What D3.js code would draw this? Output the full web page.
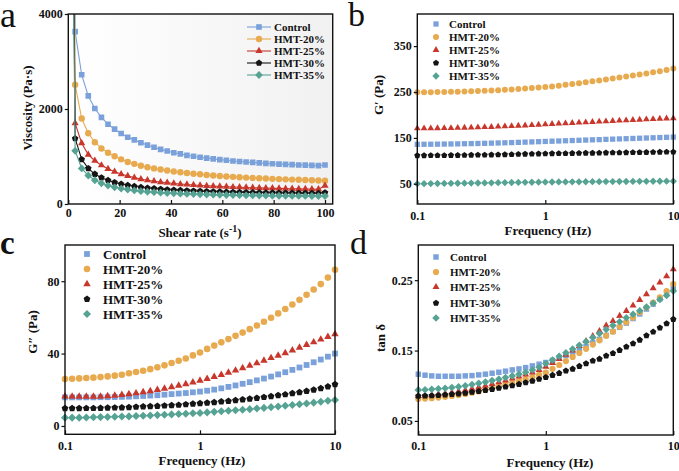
<!DOCTYPE html>
<html><head><meta charset="utf-8">
<script src="https://cdn.jsdelivr.net/npm/d3@7"></script>
<style>
body{margin:0;background:#fff;}
svg{display:block;}
text{font-family:"Liberation Serif","Times New Roman",serif;fill:#111;}
</style>
</head><body>
<svg id="chart" width="679" height="471"></svg>
<script>
// ---------------- DATA ----------------
const seriesNames  = ["Control","HMT-20%","HMT-25%","HMT-30%","HMT-35%"];
const seriesColors = ["#7ba1da","#e8aa4e","#c8372c","#151515","#56a394"];
const seriesShapes = ["square","circle","triangle","pentagon","diamond"];

// (a) viscosity vs shear rate
const shearRate = [0.1,2.66,5.22,7.78,10.34,12.91,15.47,18.03,20.59,23.15,25.72,28.28,30.84,33.40,35.96,38.53,41.09,43.65,46.21,48.77,51.34,53.90,56.46,59.02,61.58,64.15,66.71,69.27,71.83,74.39,76.96,79.52,82.08,84.64,87.20,89.77,92.33,94.89,97.45,100];
const viscControl = [30000,3630,2720,2275,2010,1825,1680,1575,1485,1405,1350,1290,1240,1195,1150,1115,1080,1055,1025,1005,985,965,950,935,920,905,895,885,875,865,855,848,840,835,828,822,818,812,808,822];
const viscHMT20 = [25000,2510,1800,1490,1300,1170,1080,1005,940,885,845,805,775,750,725,705,685,668,652,638,625,612,600,590,580,572,563,556,549,542,536,530,524,519,514,509,505,500,496,492];
const viscHMT25 = [20000,1700,1280,1040,910,815,740,680,630,590,555,525,500,480,462,447,433,420,410,400,391,383,376,369,363,357,352,347,343,339,335,331,328,325,322,319,316,314,312,385];
const viscHMT30 = [18000,1380,940,750,630,555,500,455,420,395,372,353,338,325,313,303,295,288,281,275,270,265,261,257,253,250,247,244,242,240,238,236,234,232,230,229,228,227,226,240];
const viscHMT35 = [15000,1120,750,600,500,435,388,352,325,303,285,270,258,248,239,231,224,218,213,208,204,200,196,193,190,187,185,183,181,179,177,175,174,172,171,170,169,168,167,166];

// frequency sweep (b, c, d)
const frequency = [0.1,0.1129,0.1274,0.1438,0.1624,0.1833,0.2069,0.2336,0.2637,0.2976,0.336,0.3793,0.4281,0.4833,0.5456,0.6158,0.6952,0.7848,0.8859,1.0,1.129,1.274,1.438,1.624,1.833,2.069,2.336,2.637,2.976,3.36,3.793,4.281,4.833,5.456,6.158,6.952,7.848,8.859,10];

// (b) G'
const gpControl = [136,136.1,136.2,136.4,136.6,136.8,137,137.3,137.6,137.9,138.2,138.6,139,139.4,139.8,140.3,140.8,141.3,141.8,142.3,142.8,143.3,143.8,144.3,144.8,145.3,145.8,146.3,146.8,147.3,147.8,148.3,148.8,149.3,149.8,150.3,150.8,151.3,151.8];
const gpHMT20 = [249.5,249.5,249.6,249.8,250.1,250.4,250.7,251.1,251.6,252.1,252.7,253.3,254,254.8,255.6,256.5,257.5,258.5,259.6,260.8,262.2,263.9,265.6,267.4,269.3,271.2,273.2,275.2,277.3,279.4,281.5,283.7,285.9,288.2,290.5,292.9,295.3,297.9,301];
const gpHMT25 = [170.8,170.9,171,171.1,171.3,171.5,171.8,172.1,172.5,172.9,173.4,173.9,174.5,175.1,175.8,176.5,177.2,178,178.8,179.6,180.4,181.1,181.8,182.5,183.3,184,184.8,185.5,186.2,186.9,187.6,188.3,189,189.7,190.4,191.1,191.8,192.4,193];
const gpHMT30 = [111.5,111.6,111.7,111.8,111.9,112,112.2,112.4,112.6,112.8,113,113.2,113.5,113.8,114.1,114.4,114.7,115,115.3,115.6,115.9,116.1,116.3,116.5,116.7,116.9,117.1,117.3,117.5,117.7,117.9,118.1,118.3,118.5,118.7,118.9,119.1,119.3,119.5];
const gpHMT35 = [50,50.2,50.4,50.6,50.8,51,51.2,51.4,51.6,51.8,52,52.2,52.4,52.6,52.8,53,53.2,53.4,53.6,53.8,54,54.1,54.2,54.3,54.4,54.5,54.6,54.7,54.8,54.9,55,55.1,55.2,55.3,55.4,55.5,55.6,55.7,55.8];

// (c) G''
const gppControl = [15.8,15.8,15.8,15.8,15.8,15.9,15.9,16,16.1,16.2,16.4,16.6,16.8,17,17.3,17.6,17.9,18.2,18.6,19,19.5,20.1,20.8,21.6,22.4,23.3,24.2,25.2,26.2,27.3,28.5,29.7,31,32.3,33.7,35.2,36.7,38.3,40];
const gppHMT20 = [25.9,26.1,26.3,26.5,26.7,27,27.4,27.8,28.3,29.1,29.8,30.5,31.4,32.4,33.5,34.8,36,37.3,39,40.6,42.6,44.4,46.2,48,49.8,51.6,53.5,55.5,57.6,59.8,62.2,64.6,67.1,69.7,72.5,75.4,78.4,82,86.3];
const gppHMT25 = [16.4,16.3,16.2,16.2,16.2,16.3,16.5,16.8,17.2,17.6,18.1,18.7,19.3,20,20.7,21.5,22.3,23.2,24.1,25.1,26.1,27.2,28.3,29.5,30.7,32,33.3,34.7,36.1,37.6,38.9,40.3,41.8,43.3,44.8,46.3,47.8,49.3,50.8];
const gppHMT30 = [9.7,9.7,9.7,9.8,9.8,9.9,10,10.1,10.2,10.3,10.5,10.7,10.8,11,11.2,11.4,11.6,11.9,12.2,12.5,12.8,13.1,13.5,13.8,14.2,14.6,15,15.4,15.9,16.4,16.9,17.4,18,18.6,19.3,20,20.8,21.8,23];
const gppHMT35 = [4.6,4.6,4.6,4.7,4.8,4.9,5,5.1,5.2,5.3,5.5,5.6,5.8,6,6.2,6.4,6.6,6.8,7,7.2,7.5,7.8,8.1,8.4,8.7,9,9.3,9.7,10,10.4,10.8,11.2,11.6,12,12.4,12.9,13.4,13.9,14.4];

// (d) tan delta
const tdControl = [0.1164,0.115,0.114,0.1135,0.1135,0.1135,0.1135,0.114,0.1144,0.1154,0.1164,0.1178,0.1192,0.1207,0.1225,0.1239,0.1258,0.1282,0.1306,0.133,0.136,0.1395,0.143,0.147,0.151,0.156,0.161,0.166,0.1715,0.177,0.183,0.189,0.1955,0.202,0.209,0.216,0.2235,0.231,0.239];
const tdHMT20 = [0.0813,0.0818,0.0824,0.0832,0.0842,0.0854,0.0868,0.0884,0.0902,0.0921,0.0942,0.0964,0.0988,0.1013,0.1039,0.1066,0.1094,0.1123,0.1153,0.1185,0.124,0.1295,0.135,0.141,0.1465,0.1525,0.1585,0.1645,0.171,0.177,0.1838,0.1903,0.1969,0.2045,0.2112,0.218,0.2255,0.2345,0.2445];
const tdHMT25 = [0.0855,0.086,0.0868,0.0878,0.089,0.0904,0.092,0.0937,0.0956,0.0977,0.1,0.1024,0.1049,0.1075,0.1102,0.113,0.1159,0.1189,0.1225,0.127,0.1325,0.138,0.144,0.15,0.1565,0.1635,0.1705,0.1779,0.1855,0.1921,0.1993,0.2064,0.2139,0.222,0.23,0.2386,0.2466,0.2557,0.2656];
const tdHMT30 = [0.0855,0.0856,0.0859,0.0864,0.087,0.0878,0.0887,0.0897,0.0909,0.0922,0.0936,0.0951,0.0967,0.0984,0.1002,0.1022,0.1044,0.1068,0.1094,0.1121,0.115,0.1178,0.1211,0.1239,0.1278,0.1315,0.1353,0.1381,0.1424,0.1462,0.1505,0.1552,0.1599,0.1651,0.1713,0.1765,0.1822,0.1883,0.1946];
const tdHMT35 = [0.0941,0.0943,0.095,0.0957,0.0965,0.0975,0.0987,0.1001,0.1017,0.1034,0.1053,0.1073,0.1094,0.1116,0.114,0.1165,0.1193,0.1225,0.1262,0.1315,0.1365,0.1418,0.147,0.1522,0.1575,0.163,0.1685,0.1742,0.1798,0.1855,0.1909,0.1965,0.2015,0.2065,0.2117,0.2172,0.2225,0.2282,0.2348];

// tick labels
const shearTicks = [0,20,40,60,80,100];
const viscTicks = [0,2000,4000];
const freqTicks = [0.1,1,10];
const gpTicks = [50,150,250,350];
const gppTicks = [0,40,80];
const tdTicks = [0.05,0.15,0.25];

// ---------------- DRAW ----------------
const svg = d3.select("#chart");
const defs = svg.append("defs");
const grad = defs.append("linearGradient").attr("id","bgA").attr("x1","0").attr("x2","1").attr("y1","0").attr("y2","0");
grad.append("stop").attr("offset","0%").attr("stop-color","#ffffff");
grad.append("stop").attr("offset","100%").attr("stop-color","#f1f1f1");

function poly(n, R, start){
  const p=[];
  for(let i=0;i<n;i++){const a=start+2*Math.PI*i/n;p.push([R*Math.cos(a),R*Math.sin(a)]);}
  return "M"+p.map(d=>d[0].toFixed(2)+","+d[1].toFixed(2)).join("L")+"Z";
}
function markerPath(shape, r){
  if(shape==="square"){const s=r*0.88;return `M${-s},${-s}H${s}V${s}H${-s}Z`;}
  if(shape==="circle") return d3.symbol(d3.symbolCircle, Math.PI*r*r)();
  if(shape==="triangle") return poly(3,r*1.3,-Math.PI/2);
  if(shape==="pentagon") return poly(5,r*1.08,-Math.PI/2);
  if(shape==="diamond") return poly(4,r*1.22,-Math.PI/2);
}

function panel(cfg){
  const g = svg.append("g");
  const {l,r,t,b} = cfg.box;
  const x = (cfg.xlog ? d3.scaleLog() : d3.scaleLinear()).domain(cfg.xdom).range([l,r]);
  const y = d3.scaleLinear().domain(cfg.ydom).range([b,t]);
  g.append("rect").attr("x",l).attr("y",t).attr("width",r-l).attr("height",b-t)
    .attr("fill", cfg.bg || "#fff");
  const clipId = "clip"+cfg.id;
  defs.append("clipPath").attr("id",clipId).append("rect").attr("x",l).attr("y",t).attr("width",r-l).attr("height",b-t);
  const plot = g.append("g");
  if(cfg.clip) plot.attr("clip-path",`url(#${clipId})`);
  cfg.series.forEach((vals,k)=>{
    const pts = cfg.xs.map((xv,i)=>[xv,vals[i]]);
    if(cfg.lines){
      plot.append("path").attr("d", d3.line().x(d=>x(d[0])).y(d=>y(d[1]))(pts))
        .attr("fill","none").attr("stroke",seriesColors[k]).attr("stroke-width",1.1);
    }
    plot.selectAll(null).data(pts).enter().append("path")
      .attr("d", markerPath(seriesShapes[k], cfg.mr))
      .attr("transform", d=>`translate(${x(d[0])},${y(d[1])})`)
      .attr("fill", seriesColors[k]);
  });
  const xa = d3.axisBottom(x).tickValues(cfg.xticks).tickSize(-4).tickPadding(cfg.xpad).tickFormat(cfg.xfmt);
  const ya = d3.axisLeft(y).tickValues(cfg.yticks).tickSize(3.5).tickPadding(2).tickFormat(cfg.yfmt);
  const gx = g.append("g").attr("transform",`translate(0,${b})`).call(xa);
  const gy = g.append("g").attr("transform",`translate(${l},0)`).call(ya);
  [gx,gy].forEach(a=>{
    a.select(".domain").remove();
    a.selectAll("line").attr("stroke","#111").attr("stroke-width",1.2);
    a.selectAll("text").style("font-size","12px").style("font-weight","bold").style("fill","#111");
  });
  g.append("rect").attr("x",l).attr("y",t).attr("width",r-l).attr("height",b-t)
    .attr("fill","none").attr("stroke","#111").attr("stroke-width",1.4);
  const xt = g.append("text").attr("x",cfg.xtitle[0]).attr("y",cfg.xtitle[1]+4.5)
    .attr("text-anchor","middle").style("font-size","13px").style("font-weight","bold");
  cfg.xtitleFn(xt);
  g.append("text").attr("transform",`translate(${cfg.ytitle[0]+4.5},${cfg.ytitle[1]}) rotate(-90)`)
    .attr("text-anchor","middle").style("font-size","13px").style("font-weight","bold").text(cfg.ytitleText);
  const lg = cfg.legend;
  seriesNames.forEach((name,k)=>{
    const yy = lg.rows[k];
    if(lg.line){
      g.append("line").attr("x1",lg.lx[0]).attr("x2",lg.lx[1]).attr("y1",yy).attr("y2",yy)
        .attr("stroke",seriesColors[k]).attr("stroke-width",1.1);
    }
    g.append("path").attr("d",markerPath(seriesShapes[k],cfg.mr))
      .attr("transform",`translate(${lg.mx},${yy})`).attr("fill",seriesColors[k]);
    g.append("text").attr("x",lg.tx).attr("y",yy).attr("dy","0.35em")
      .style("font-size",lg.fs+"px").style("font-weight","bold").text(name);
  });
  svg.append("text").attr("x",cfg.letter[0]).attr("y",cfg.letter[1])
    .style("font-size",cfg.letter[2]+"px").style("font-weight",cfg.letter[3]).text(cfg.letter[4]);
}

const fmtG = d3.format("~g");
const freqTitle = t=>t.text("Frequency (Hz)");

panel({id:"a", box:{l:68.3,r:332.7,t:14,b:204}, xdom:[0,103], ydom:[0,4000], xlog:false,
  xs:shearRate, series:[viscControl,viscHMT20,viscHMT25,viscHMT30,viscHMT35],
  lines:true, clip:true, mr:3.2, bg:"url(#bgA)",
  xticks:shearTicks, yticks:viscTicks, xfmt:fmtG, yfmt:d3.format("d"), xpad:4.5,
  xtitle:[200,232], xtitleFn:t=>{t.append("tspan").text("Shear rate (s");
    t.append("tspan").style("font-size","10px").attr("dy",-5).text("-1");
    t.append("tspan").attr("dy",5).text(")");},
  ytitle:[27,108], ytitleText:"Viscosity (Pa·s)",
  legend:{line:true, lx:[247,271], mx:259, tx:274, rows:[27,39,51,63,75], fs:11},
  letter:[0,27,36,"normal","a"]});

panel({id:"b", box:{l:417.3,r:673.3,t:14,b:204}, xdom:[0.1,10], ydom:[6,420], xlog:true,
  xs:frequency, series:[gpControl,gpHMT20,gpHMT25,gpHMT30,gpHMT35],
  lines:false, clip:false, mr:3,
  xticks:freqTicks, yticks:gpTicks, xfmt:fmtG, yfmt:d3.format("d"), xpad:7,
  xtitle:[548,230], xtitleFn:freqTitle,
  ytitle:[378,95], ytitleText:"G′ (Pa)",
  legend:{line:false, mx:436, tx:449, rows:[24,37,50,63,76], fs:11},
  letter:[348,26,34,"normal","b"]});

panel({id:"c", box:{l:65,r:335,t:245,b:434.3}, xdom:[0.1,10], ydom:[-4.6,100], xlog:true,
  xs:frequency, series:[gppControl,gppHMT20,gppHMT25,gppHMT30,gppHMT35],
  lines:false, clip:false, mr:3.3,
  xticks:freqTicks, yticks:gppTicks, xfmt:fmtG, yfmt:d3.format("d"), xpad:7,
  xtitle:[202,460], xtitleFn:freqTitle,
  ytitle:[32,332], ytitleText:"G″ (Pa)",
  legend:{line:false, mx:87, tx:103, rows:[254,269,284,299,314], fs:13},
  letter:[0,254,33,"bold","c"]});

panel({id:"d", box:{l:418.3,r:673.3,t:245,b:435}, xdom:[0.1,10], ydom:[0.03,0.30], xlog:true,
  xs:frequency, series:[tdControl,tdHMT20,tdHMT25,tdHMT30,tdHMT35],
  lines:false, clip:false, mr:3.1,
  xticks:freqTicks, yticks:tdTicks, xfmt:fmtG, yfmt:d3.format(".2f"), xpad:6,
  xtitle:[550,462], xtitleFn:freqTitle,
  ytitle:[380,338], ytitleText:"tan δ",
  legend:{line:false, mx:436, tx:450, rows:[257,272,287,303,318], fs:11},
  letter:[350,254,34,"normal","d"]});
</script>
</body></html>
